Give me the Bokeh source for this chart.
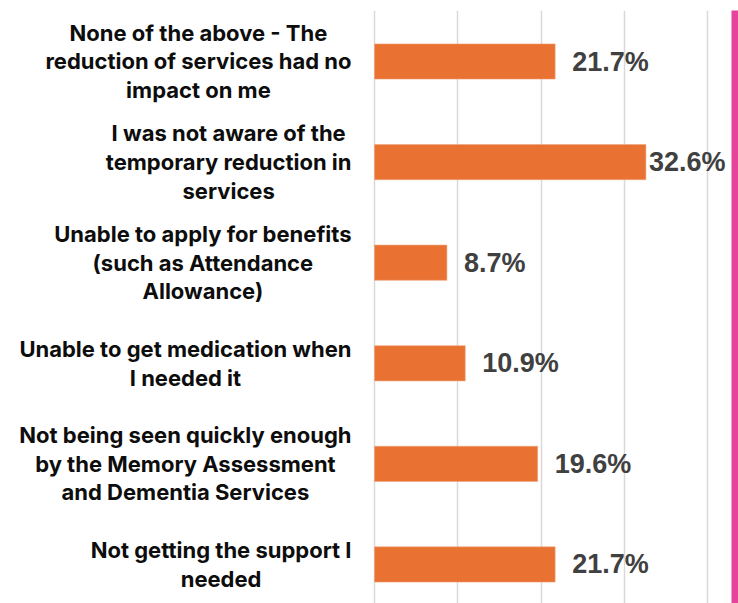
from bokeh.plotting import figure
from bokeh.models import Range1d, ColumnDataSource, FixedTicker, BoxAnnotation
from bokeh.core.properties import value
from bokeh.embed import file_html
from bokeh.resources import INLINE

# ---- data (top to bottom as shown) ----
categories = [
    "None of the above - The\nreduction of services had no\nimpact on me",
    "I was not aware of the\ntemporary reduction in\nservices",
    "Unable to apply for benefits\n(such as Attendance\nAllowance)",
    "Unable to get medication when\nI needed it",
    "Not being seen quickly enough\nby the Memory Assessment\nand Dementia Services",
    "Not getting the support I\nneeded",
]
percentages = [21.7, 32.6, 8.7, 10.9, 19.6, 21.7]
grid_ticks = [0, 10, 20, 30, 40]

n = len(categories)
ypos = [n - 1 - i for i in range(n)]
val_text = [f"{v:.1f}%" for v in percentages]
val_offset = [3 if v > 30 else 17 for v in percentages]

src = ColumnDataSource(dict(cat=categories, y=ypos, v=percentages,
                            zero=[0] * n, vt=val_text, off=val_offset))

W, H = 738, 603
px_per_unit = 8.325      # pixels per percentage point
x0_px = 374              # pixel position of 0%

p = figure(width=W, height=H, output_backend="svg", toolbar_location=None,
           x_range=Range1d(-x0_px / px_per_unit, (W - x0_px) / px_per_unit),
           y_range=Range1d(-0.388, 5.507),
           min_border_left=0, min_border_right=0, min_border_bottom=0,
           min_border_top=10)
p.outline_line_color = None
p.background_fill_color = "white"
p.border_fill_color = "white"
p.xaxis.visible = False
p.yaxis.visible = False
p.ygrid.grid_line_color = None
p.xgrid.ticker = FixedTicker(ticks=grid_ticks)
p.xgrid.grid_line_color = "#D9D9D9"
p.xgrid.grid_line_width = 1.5

p.hbar(y="y", left="zero", right="v", height=0.35, source=src,
       fill_color="#E97132", line_color="#F0A57C", line_width=0.6)

p.text(x="v", y="y", text="vt", source=src, x_offset="off",
       text_align="left", text_baseline="middle",
       text_font=value("Liberation Sans"), text_font_style="bold",
       text_font_size="27px", text_color="#404040")

p.text(x="zero", y="y", text="cat", source=src, x_offset=-23,
       text_align="center", text_baseline="middle",
       anchor=value("center_right"),
       text_line_height=1.1,
       text_font=value("Inter"), text_font_style="bold",
       text_font_size="22px", text_color="#0d0d0d")

pink = BoxAnnotation(left=(731 - x0_px) / px_per_unit, top=0, top_units="canvas",
                     fill_color="#E6449A", fill_alpha=1.0, line_color=None)
p.add_layout(pink)

open("out.html", "w").write(file_html(p, INLINE))
